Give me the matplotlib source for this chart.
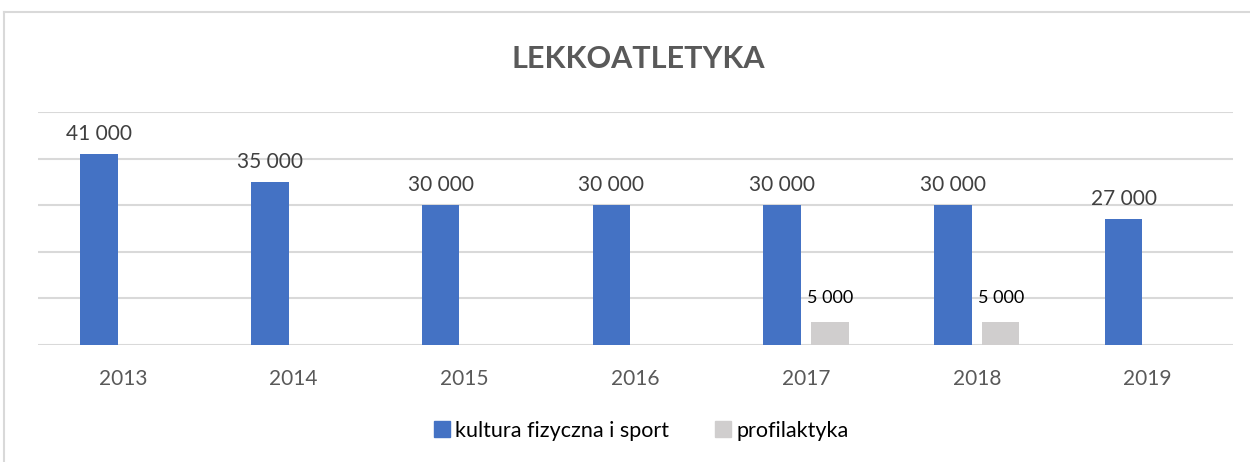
import matplotlib.pyplot as plt
import numpy as np
from matplotlib.lines import Line2D

years = ['2013', '2014', '2015', '2016', '2017', '2018', '2019']
sport = [41000, 35000, 30000, 30000, 30000, 30000, 27000]
profilaktyka = [0, 0, 0, 0, 5000, 5000, 0]

blue = '#4472c4'
grey = '#d0cece'

plt.rcParams['font.family'] = ['Lato', 'DejaVu Sans']

fig = plt.figure(figsize=(12.5, 4.62), dpi=100)
ax = fig.add_axes([0.0301, 0.2532, 0.9562, 0.5044])

x = np.arange(len(years))
w = 0.22
b1 = ax.bar(x - 0.14, sport, w, color=blue, label='kultura fizyczna i sport', zorder=3)
b2 = ax.bar(x + 0.14, profilaktyka, w, color=grey, label='profilaktyka', zorder=3)

def fmt(v):
    return '{:,}'.format(v).replace(',', ' ')

for xi, v in zip(x, sport):
    ax.annotate(fmt(v), (xi - 0.14, v), xytext=(0, 7), textcoords='offset points',
                ha='center', va='bottom', fontsize=15, color='#404040')
for xi, v in zip(x, profilaktyka):
    if v > 0:
        ax.annotate(fmt(v), (xi + 0.14, v), xytext=(0, 11), textcoords='offset points',
                    ha='center', va='bottom', fontsize=13, color='black')

ax.set_xlim(-0.5, len(years) - 0.5)
ax.set_ylim(0, 50000)
ax.set_yticks(np.arange(0, 50001, 10000))
ax.yaxis.grid(True, color='#d9d9d9', linewidth=1.5, zorder=0)
ax.set_yticklabels([])
ax.tick_params(axis='y', length=0)
ax.tick_params(axis='x', length=0, labelsize=15, labelcolor='#595959', pad=17)
ax.set_xticks(x)
ax.set_xticklabels(years)
for s in ax.spines.values():
    s.set_visible(False)

fig.text(0.511, 0.872, 'LEKKOATLETYKA', ha='center', va='center',
         fontsize=22, fontweight='bold', color='#595959')

handles = [Line2D([], [], marker='s', linestyle='', markersize=12, color=blue),
           Line2D([], [], marker='s', linestyle='', markersize=12, color=grey)]
fig.legend(handles, ['kultura fizyczna i sport', 'profilaktyka'], loc='center',
           bbox_to_anchor=(0.512, 0.068), ncol=2, frameon=False, fontsize=15.5,
           handletextpad=0.1, columnspacing=2.0, handlelength=1.0)

# chart border
fig.add_artist(Line2D([4 / 1250, 4 / 1250], [0, 1 - 12 / 462], color='#d9d9d9', lw=1.5,
                      transform=fig.transFigure))
fig.add_artist(Line2D([4 / 1250, 1], [1 - 12 / 462, 1 - 12 / 462], color='#d9d9d9', lw=1.5,
                      transform=fig.transFigure))

fig.savefig('out.png', dpi=100)
